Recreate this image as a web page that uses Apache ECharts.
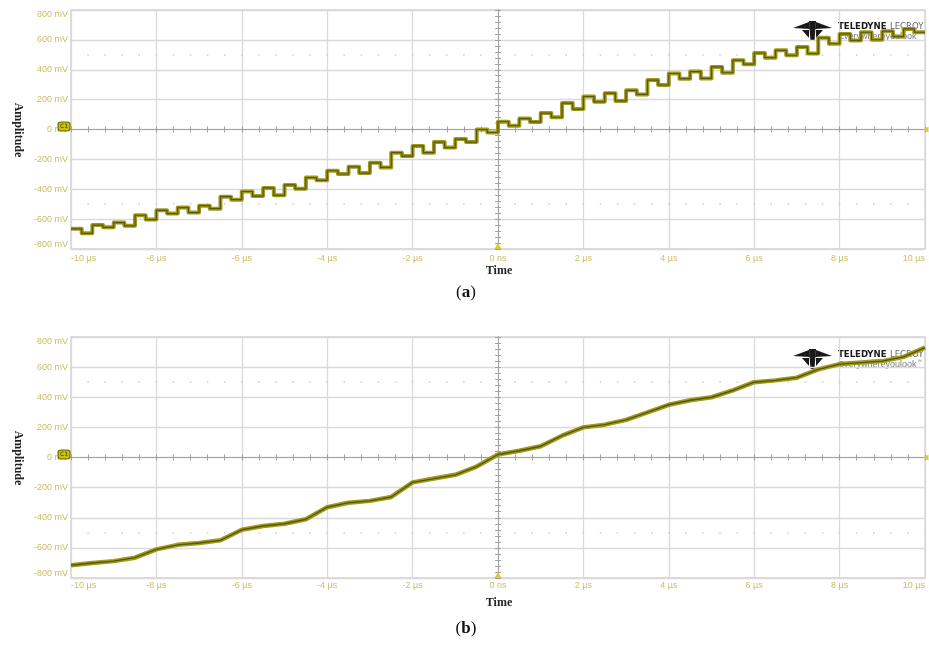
<!DOCTYPE html>
<html><head><meta charset="utf-8">
<script src="https://cdn.jsdelivr.net/npm/echarts@6/dist/echarts.min.js"></script>
<style>html,body{margin:0;padding:0;background:#fff}#c{width:929px;height:645px}</style>
</head><body><div id="c"></div>
<script>
// ---- tick labels ----
const timeTicks = [-10, -8, -6, -4, -2, 0, 2, 4, 6, 8, 10];
const timeTickLabels = ['-10 µs', '-8 µs', '-6 µs', '-4 µs', '-2 µs', '0 ns', '2 µs', '4 µs', '6 µs', '8 µs', '10 µs'];
const ampTicks = [-800, -600, -400, -200, 0, 200, 400, 600, 800];
const ampTickLabels = ['-800 mV', '-600 mV', '-400 mV', '-200 mV', '0 mV', '200 mV', '400 mV', '600 mV', '800 mV'];

// ---- panel (a): staircase, each 0.5 µs step has a high half and a lower half (mV) ----
const stepStartA = [-10, -9.5, -9, -8.5, -8, -7.5, -7, -6.5, -6, -5.5, -5, -4.5, -4, -3.5, -3, -2.5, -2, -1.5, -1, -0.5,
  0, 0.5, 1, 1.5, 2, 2.5, 3, 3.5, 4, 4.5, 5, 5.5, 6, 6.5, 7, 7.5, 8, 8.5, 9, 9.5];
const stepMidA = [-9.75, -9.25, -8.75, -8.25, -7.75, -7.25, -6.75, -6.25, -5.75, -5.25, -4.75, -4.25, -3.75, -3.25, -2.75, -2.25, -1.75, -1.25, -0.75, -0.25,
  0.25, 0.75, 1.25, 1.75, 2.25, 2.75, 3.25, 3.75, 4.25, 4.75, 5.25, 5.75, 6.25, 6.75, 7.25, 7.75, 8.25, 8.75, 9.25, 9.75];
const stepHighA = [-665, -640, -623, -574, -541, -523, -510, -450, -415, -391, -371, -322, -276, -250, -223, -155, -110, -84, -64, 0,
  52, 73, 110, 177, 221, 243, 262, 331, 375, 388, 419, 464, 512, 530, 552, 614, 640, 651, 658, 673];
const stepLowA = [-695, -655, -645, -603, -563, -556, -530, -470, -446, -441, -397, -340, -298, -292, -254, -178, -155, -121, -84, -20,
  25, 51, 82, 137, 185, 191, 235, 298, 340, 342, 380, 437, 481, 497, 508, 574, 596, 601, 622, 651];

// ---- panel (b): smoother ramp (mV) ----
const timeB = [-10, -9.5, -9, -8.5, -8, -7.5, -7, -6.5, -6, -5.5, -5, -4.5, -4, -3.5, -3, -2.5, -2, -1.5, -1, -0.5,
  0, 0.5, 1, 1.5, 2, 2.5, 3, 3.5, 4, 4.5, 5, 5.5, 6, 6.5, 7, 7.5, 8, 8.5, 9, 9.5, 10];
const ampB = [-715, -700, -688, -665, -610, -580, -568, -550, -480, -455, -440, -410, -330, -300, -288, -262, -165, -140, -115, -60,
  20, 45, 75, 145, 200, 218, 250, 300, 350, 380, 400, 445, 500, 512, 530, 585, 620, 630, 640, 668, 730];

// build series data
const dataA = [];
for (let i = 0; i < stepStartA.length; i++) {
  dataA.push([stepStartA[i], stepHighA[i]]);
  dataA.push([stepMidA[i], stepLowA[i]]);
}
dataA.push([timeTicks[timeTicks.length - 1], stepLowA[stepLowA.length - 1]]);
const dataB = timeB.map((t, i) => [t, ampB[i]]);

const LABEL_COLOR = '#c9bf62';
const GRID_COLOR = '#dadada';
const CENTER_COLOR = '#a2a2a2';
const TRACE_BASE = '#9e9a1c';
const TRACE_CORE = '#58560a';

const grids = [
  { left: 71, right: 4, top: 10, height: 239 },
  { left: 71, right: 4, top: 337, height: 241 }
];

const xAxes = [], yAxes = [];
grids.forEach((g, gi) => {
  const base = gi * 3;
  xAxes.push({
    gridIndex: gi, type: 'value', min: -10, max: 10, interval: 2, position: 'bottom',
    axisLine: { show: false, onZero: false }, axisTick: { show: false },
    axisLabel: {
      color: LABEL_COLOR, fontSize: 9, fontFamily: 'Liberation Sans, Arial, sans-serif', margin: gi === 0 ? 5 : 3,
      alignMinLabel: 'left', alignMaxLabel: 'right',
      formatter: v => timeTickLabels[timeTicks.indexOf(Math.round(v))] || ''
    },
    splitLine: { show: true, lineStyle: { color: GRID_COLOR, width: 1.3 } }
  });
  xAxes.push({
    gridIndex: gi, type: 'value', min: -10, max: 10, interval: 2, position: 'bottom',
    axisLine: { show: true, onZero: true, onZeroAxisIndex: base + 1, lineStyle: { color: CENTER_COLOR, width: 1 } },
    axisTick: { show: true, inside: true, length: 3, lineStyle: { color: CENTER_COLOR } },
    minorTick: { show: true, splitNumber: 5, length: 3, lineStyle: { color: CENTER_COLOR } },
    axisLabel: { show: false }, splitLine: { show: false }
  });
  xAxes.push({
    gridIndex: gi, type: 'value', min: -10, max: 10, interval: 2, position: 'top',
    axisLine: { show: true, onZero: true, onZeroAxisIndex: base + 2, lineStyle: { color: CENTER_COLOR, width: 1 } },
    axisTick: { show: true, inside: true, length: 3, lineStyle: { color: CENTER_COLOR } },
    minorTick: { show: true, splitNumber: 5, length: 3, lineStyle: { color: CENTER_COLOR } },
    axisLabel: { show: false }, splitLine: { show: false }
  });
  yAxes.push({
    gridIndex: gi, type: 'value', min: -800, max: 800, interval: 200, position: 'left',
    axisLine: { show: false, onZero: false }, axisTick: { show: false },
    axisLabel: {
      color: LABEL_COLOR, fontSize: 9, fontFamily: 'Liberation Sans, Arial, sans-serif', margin: 3,
      verticalAlignMinLabel: 'bottom', verticalAlignMaxLabel: 'top',
      formatter: v => ampTickLabels[ampTicks.indexOf(Math.round(v))] || ''
    },
    splitLine: { show: true, lineStyle: { color: GRID_COLOR, width: 1.3 } }
  });
  yAxes.push({
    gridIndex: gi, type: 'value', min: -800, max: 800, interval: 200, position: 'left',
    axisLine: { show: true, onZero: true, onZeroAxisIndex: base + 1, lineStyle: { color: CENTER_COLOR, width: 1 } },
    axisTick: { show: true, inside: true, length: 3, lineStyle: { color: CENTER_COLOR } },
    minorTick: { show: true, splitNumber: 5, length: 3, lineStyle: { color: CENTER_COLOR } },
    axisLabel: { show: false }, splitLine: { show: false }
  });
  yAxes.push({
    gridIndex: gi, type: 'value', min: -800, max: 800, interval: 200, position: 'right',
    axisLine: { show: true, onZero: true, onZeroAxisIndex: base + 2, lineStyle: { color: CENTER_COLOR, width: 1 } },
    axisTick: { show: true, inside: true, length: 3, lineStyle: { color: CENTER_COLOR } },
    minorTick: { show: true, splitNumber: 5, length: 3, lineStyle: { color: CENTER_COLOR } },
    axisLabel: { show: false }, splitLine: { show: false }
  });
});

function decorMarks() {
  return {
    markLine: {
      silent: true, symbol: 'none', label: { show: false },
      lineStyle: { color: '#cdcdcd', type: [1.5, 15.58], dashOffset: 0.75, width: 1.6 },
      data: [{ yAxis: 500 }, { yAxis: -500 }]
    },
    markPoint: {
      silent: true,
      data: [
        { coord: [-10, 0], symbol: 'roundRect', symbolSize: [12, 9], symbolOffset: [-7, -3],
          itemStyle: { color: '#c8c010', borderColor: '#6e6a00', borderWidth: 1 },
          label: { show: true, formatter: 'C1', fontSize: 6, color: '#3a3800', fontFamily: 'DejaVu Sans' } },
        { coord: [0, -800], symbol: 'triangle', symbolSize: [7, 6], symbolOffset: [0, -3],
          itemStyle: { color: '#d6cf2a' }, label: { show: false } },
        { coord: [10, 0], symbol: 'triangle', symbolRotate: 90, symbolSize: [6, 5], symbolOffset: [1, 0],
          itemStyle: { color: '#d6cf2a' }, label: { show: false } }
      ]
    }
  };
}

const series = [
  Object.assign({ type: 'line', xAxisIndex: 0, yAxisIndex: 0, data: dataA, step: 'end', symbol: 'none',
    lineStyle: { color: TRACE_BASE, width: 4, join: 'round' }, z: 5 }, decorMarks()),
  { type: 'line', xAxisIndex: 0, yAxisIndex: 0, data: dataA, step: 'end', symbol: 'none',
    lineStyle: { color: TRACE_CORE, width: 1.2 }, z: 6 },
  Object.assign({ type: 'line', xAxisIndex: 3, yAxisIndex: 3, data: dataB, symbol: 'none',
    lineStyle: { color: TRACE_BASE, width: 4.5, join: 'round' }, z: 5 }, decorMarks()),
  { type: 'line', xAxisIndex: 3, yAxisIndex: 3, data: dataB, symbol: 'none',
    lineStyle: { color: TRACE_CORE, width: 1.4 }, z: 6 }
];

function logo(x, y) {
  return {
    type: 'group', x: x, y: y, z: 20, silent: true,
    children: [
      { type: 'polygon', shape: { points: [[0, 7], [16, 1], [17, 8]] }, style: { fill: '#1a1a1a' } },
      { type: 'polygon', shape: { points: [[39, 7], [23, 1], [22, 8]] }, style: { fill: '#1a1a1a' } },
      { type: 'polygon', shape: { points: [[16, 0], [23, 0], [21.5, 20], [17.5, 20]] }, style: { fill: '#1a1a1a' } },
      { type: 'polygon', shape: { points: [[9, 9], [16, 9], [16, 17]] }, style: { fill: '#1a1a1a' } },
      { type: 'polygon', shape: { points: [[30, 9], [23, 9], [23, 17]] }, style: { fill: '#1a1a1a' } },
      { type: 'text', x: 45, y: 0, style: { text: '{a|TELEDYNE} {b|LECROY}',
          rich: { a: { font: 'bold 9.5px "DejaVu Sans Condensed", "DejaVu Sans", sans-serif', fill: '#1a1a1a' },
                  b: { font: '9.5px "DejaVu Sans Condensed", "DejaVu Sans", sans-serif', fill: '#666' } } } },
      { type: 'text', x: 45, y: 11, style: { text: 'Everywhereyoulook', font: '9px "Liberation Sans", sans-serif', fill: '#7a7a7a' } },
      { type: 'text', x: 124, y: 10, style: { text: '™', font: '5px sans-serif', fill: '#7a7a7a' } }
    ]
  };
}

const serifBold = 'bold 12px "Liberation Serif", "Times New Roman", serif';
const graphic = [
  { type: 'text', x: 18, y: 130, rotation: -Math.PI / 2, style: { text: 'Amplitude', font: serifBold, fill: '#222', textAlign: 'center', textVerticalAlign: 'middle' } },
  { type: 'text', x: 18, y: 458, rotation: -Math.PI / 2, style: { text: 'Amplitude', font: serifBold, fill: '#222', textAlign: 'center', textVerticalAlign: 'middle' } },
  { type: 'text', x: 499, y: 271, style: { text: 'Time', font: serifBold, fill: '#222', textAlign: 'center', textVerticalAlign: 'middle' } },
  { type: 'text', x: 499, y: 603, style: { text: 'Time', font: serifBold, fill: '#222', textAlign: 'center', textVerticalAlign: 'middle' } },
  { type: 'text', x: 466, y: 293, style: { text: '{n|(}{b|a}{n|)}', textAlign: 'center', textVerticalAlign: 'middle',
      rich: { n: { font: '17px "Liberation Serif", serif', fill: '#111' }, b: { font: 'bold 17px "Liberation Serif", serif', fill: '#111' } } } },
  { type: 'text', x: 466, y: 629, style: { text: '{n|(}{b|b}{n|)}', textAlign: 'center', textVerticalAlign: 'middle',
      rich: { n: { font: '17px "Liberation Serif", serif', fill: '#111' }, b: { font: 'bold 17px "Liberation Serif", serif', fill: '#111' } } } },
  logo(793, 21),
  logo(793, 349)
];

const chart = echarts.init(document.getElementById('c'), null, { renderer: 'canvas' });
chart.setOption({
  animation: false,
  backgroundColor: '#ffffff',
  grid: grids.map(g => Object.assign({ show: true, borderColor: '#cfcfcf', borderWidth: 1.3, backgroundColor: '#fff', containLabel: false }, g)),
  xAxis: xAxes,
  yAxis: yAxes,
  series: series,
  graphic: graphic
});
</script>
</body></html>
